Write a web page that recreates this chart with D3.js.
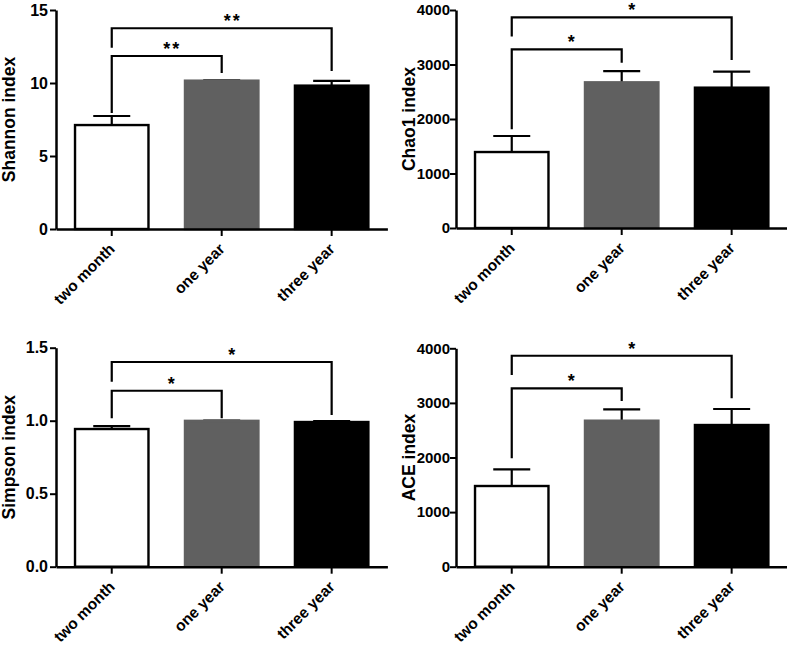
<!DOCTYPE html>
<html>
<head>
<meta charset="utf-8">
<script src="https://cdn.jsdelivr.net/npm/d3@7"></script>
<style>
  html, body { margin: 0; padding: 0; background: #fff; }
  svg { display: block; }
  text { font-family: Arial, "Liberation Sans", Helvetica, sans-serif; font-weight: bold; fill: #000; }
</style>
</head>
<body>
<svg id="chart" width="787" height="645"></svg>
<script>
// ---------- data ----------
const categories = ["two month", "one year", "three year"];
const barColors = ["#ffffff", "#606060", "#000000"];

const shannonMean = [7.12, 10.16, 9.82];
const shannonSem  = [0.62, 0.03, 0.32];
const shannonTicks = [0, 5, 10, 15];

const chao1Mean = [1394, 2673, 2575];
const chao1Sem  = [294, 207, 293];
const chao1Ticks = [0, 1000, 2000, 3000, 4000];

const simpsonMean = [0.943, 0.999, 0.991];
const simpsonSem  = [0.020, 0.002, 0.006];
const simpsonTicks = [0, 0.5, 1.0, 1.5];

const aceMean = [1478, 2674, 2595];
const aceSem  = [306, 209, 293];
const aceTicks = [0, 1000, 2000, 3000, 4000];

// significance brackets: [fromIdx, toIdx, level, leftLegEnd, rightLegEnd, label]
const shannonBrackets = [[0, 1, 11.85, 7.95, 10.68, "**"], [0, 2, 13.75, 12.42, 10.82, "**"]];
const chao1Brackets   = [[0, 1, 3278, 1811, 3033, "*"], [0, 2, 3866, 3512, 3083, "*"]];
const simpsonBrackets = [[0, 1, 1.205, 1.016, 1.016, "*"], [0, 2, 1.402, 1.267, 1.039, "*"]];
const aceBrackets     = [[0, 1, 3267, 1985, 3035, "*"], [0, 2, 3864, 3511, 3084, "*"]];

// ---------- panels (built from arrays above) ----------
const panels = [
  {title: "Shannon index", mean: shannonMean, sem: shannonSem, ticks: shannonTicks, fmt: d3.format("d"),  br: shannonBrackets, x0: 56,  y0: 229,   y1: 10,    tf: 16, tp: 2},
  {title: "Chao1 index",   mean: chao1Mean,   sem: chao1Sem,   ticks: chao1Ticks,   fmt: d3.format("d"),  br: chao1Brackets,   x0: 456, y0: 228,   y1: 10,    tf: 15, tp: 0},
  {title: "Simpson index", mean: simpsonMean, sem: simpsonSem, ticks: simpsonTicks, fmt: d3.format(".1f"), br: simpsonBrackets, x0: 56,  y0: 566.7, y1: 347.7, tf: 16, tp: 2},
  {title: "ACE index",     mean: aceMean,     sem: aceSem,     ticks: aceTicks,     fmt: d3.format("d"),  br: aceBrackets,     x0: 456, y0: 566.7, y1: 348.3, tf: 15, tp: 0}
];

const svg = d3.select("#chart");
svg.append("rect").attr("width", 787).attr("height", 645).attr("fill", "#fff");

panels.forEach(p => {
  const g = svg.append("g");
  const x = d3.scaleBand().domain(categories)
    .range([p.x0, p.x0 + 331.4]).paddingInner(0.332).paddingOuter(0.173);
  const y = d3.scaleLinear().domain([p.ticks[0], p.ticks[p.ticks.length - 1]]).range([p.y0, p.y1]);
  const bw = x.bandwidth();
  const cx = c => x(c) + bw / 2;

  // error bars (upward only)
  categories.forEach((c, i) => {
    const top = p.mean[i] + p.sem[i];
    g.append("line").attr("x1", cx(c)).attr("x2", cx(c))
      .attr("y1", y(p.mean[i])).attr("y2", y(top))
      .attr("stroke", "#000").attr("stroke-width", 2.2);
    g.append("line").attr("x1", cx(c) - 18.5).attr("x2", cx(c) + 18.5)
      .attr("y1", y(top)).attr("y2", y(top))
      .attr("stroke", "#000").attr("stroke-width", 2.2);
  });

  // bars
  g.selectAll("rect.bar").data(categories).enter().append("rect")
    .attr("class", "bar")
    .attr("x", c => x(c))
    .attr("width", bw)
    .attr("y", (c, i) => y(p.mean[i]))
    .attr("height", (c, i) => y(0) - y(p.mean[i]))
    .attr("fill", (c, i) => barColors[i])
    .attr("stroke", (c, i) => i === 0 ? "#000" : barColors[i])
    .attr("stroke-width", 2.4);

  // y axis
  const ya = d3.axisLeft(y).tickValues(p.ticks).tickFormat(p.fmt).tickSize(6).tickSizeOuter(0).tickPadding(p.tp);
  const yg = g.append("g").attr("transform", `translate(${p.x0},0)`).call(ya);
  yg.select(".domain").attr("stroke", "#000").attr("stroke-width", 2.5);
  yg.selectAll(".tick line").attr("stroke", "#000").attr("stroke-width", 2);
  yg.selectAll(".tick text").attr("font-size", p.tf).attr("font-family", 'Arial, "Liberation Sans", sans-serif')
    .attr("font-weight", "bold").attr("fill", "#000");

  // x axis
  const xa = d3.axisBottom(x).tickSize(7).tickSizeOuter(0).tickFormat(() => "");
  const xg = g.append("g").attr("transform", `translate(0,${p.y0})`).call(xa);
  xg.select(".domain").attr("stroke", "#000").attr("stroke-width", 2.5);
  xg.selectAll(".tick line").attr("stroke", "#000").attr("stroke-width", 2);
  categories.forEach(c => {
    g.append("text")
      .attr("transform", `translate(${cx(c) + 4},${p.y0 + 21}) rotate(-45)`)
      .attr("text-anchor", "end")
      .attr("font-size", 15.5)
      .text(c);
  });

  // y title
  g.append("text")
    .attr("transform", `translate(${p.x0 - 41.5},${(p.y0 + p.y1) / 2}) rotate(-90)`)
    .attr("text-anchor", "middle")
    .attr("font-size", 17.5)
    .text(p.title);

  // significance brackets
  p.br.forEach(b => {
    const xa1 = cx(categories[b[0]]), xb1 = cx(categories[b[1]]);
    g.append("path")
      .attr("d", `M${xa1},${y(b[3])}V${y(b[2])}H${xb1}V${y(b[4])}`)
      .attr("fill", "none").attr("stroke", "#000").attr("stroke-width", 2.2);
    g.append("text")
      .attr("x", xa1 + (xb1 - xa1) * 0.55)
      .attr("y", y(b[2]) - 1)
      .attr("text-anchor", "middle")
      .attr("font-size", 18)
      .attr("letter-spacing", 2)
      .text(b[5]);
  });
});
</script>
</body>
</html>
